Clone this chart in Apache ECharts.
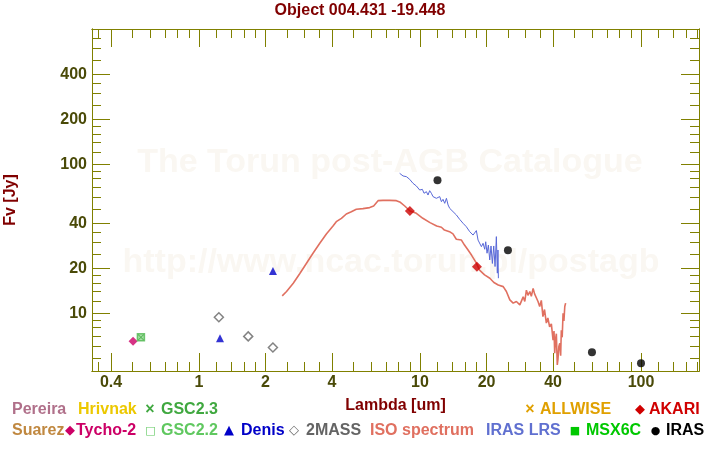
<!DOCTYPE html>
<html><head><meta charset="utf-8">
<script src="https://cdn.jsdelivr.net/npm/echarts@6/dist/echarts.min.js"></script>
<style>html,body{margin:0;padding:0;background:#fff}#c{width:720px;height:450px}</style>
</head><body><div id="c"></div>
<script>
// ---- tick values ----
const xMajorTicks = [0.4, 1, 2, 4, 10, 20, 40, 100];
const xMinorTicks = [0.35, 0.5, 0.6, 0.7, 0.8, 0.9, 1.2, 1.4, 1.6, 1.8, 2.5, 3, 3.5, 5, 6, 7, 8, 9,
  12, 14, 16, 18, 25, 30, 35, 50, 60, 70, 80, 90, 120, 140, 160, 180];
const yMajorTicks = [10, 20, 40, 100, 200, 400];
const yMinorTicks = [5, 6, 7, 8, 9, 12, 14, 16, 18, 25, 30, 35, 50, 60, 70, 80, 90,
  120, 140, 160, 180, 250, 300, 350, 500, 600, 700, 800];

// ---- ISO spectrum ----
const isoWave = [2.38, 2.49, 2.67, 2.86, 3.06, 3.28, 3.52, 3.77, 4.04, 4.18, 4.41, 4.64, 4.89, 5.15, 5.52, 5.92,
  6.17, 6.46, 6.80, 7.29, 7.82, 8.15, 8.53, 9.01, 9.63, 10.3, 11.1, 11.9, 12.5, 12.9, 13.6, 14.1, 14.6, 15.4,
  15.9, 16.5, 17.1, 18.0, 18.6, 19.6, 20.7, 21.6, 22.6, 23.8, 24.6, 25.5, 26.4, 27.3, 28.3, 29.3, 29.8, 30.3,
  30.8, 31.4, 31.9, 32.5, 33.0, 33.6, 34.2, 34.8, 35.4, 36.0, 36.6, 37.3, 37.9, 38.6, 39.3, 40.0, 40.4, 40.7,
  41.1, 41.4, 41.8, 42.1, 42.5, 42.9, 43.3, 43.6, 44.0, 44.4, 44.8, 45.2, 45.6];
const isoFlux = [13.1, 14.0, 15.9, 18.5, 21.6, 25.3, 29.5, 34.1, 38.5, 41.2, 43.4, 46.4, 48.1, 49.9, 50.4, 51.2,
  52.5, 57.0, 57.3, 57.3, 57.0, 55.6, 52.5, 48.6, 46.9, 43.4, 40.6, 38.5, 37.8, 36.2, 35.3, 34.1, 31.4, 31.0,
  28.7, 26.6, 24.6, 21.7, 19.5, 18.1, 17.2, 16.1, 15.5, 15.1, 14.0, 12.3, 11.7, 12.0, 11.4, 12.9, 12.0, 14.3,
  13.2, 14.0, 13.0, 14.7, 13.5, 13.3, 12.0, 11.1, 12.2, 9.5, 10.6, 8.6, 9.3, 8.1, 8.5, 6.6, 7.6, 5.4,
  6.8, 7.3, 4.5, 4.9, 6.0, 6.3, 5.2, 7.7, 6.9, 10.0, 8.9, 11.1, 11.7];

// ---- IRAS LRS ----
const lrsWave = [8.09, 8.38, 8.68, 8.98, 9.30, 9.63, 9.97, 10.25, 10.43, 10.69, 10.87, 11.06, 11.26, 11.45,
  11.65, 11.86, 12.06, 12.28, 12.50, 12.71, 12.94, 13.17, 13.40, 13.63, 14.11, 14.61, 15.12, 15.66, 15.94,
  16.21, 16.50, 16.79, 17.38, 17.99, 18.31, 18.63, 18.96, 19.29, 19.63, 19.83, 20.11, 20.39, 20.68, 20.96,
  21.26, 21.56, 21.86, 22.16, 22.39, 22.53, 22.63];
const lrsFlux = [87.0, 83.5, 82.6, 79.3, 74.5, 71.5, 67.2, 67.9, 63.9, 65.5, 62.2, 66.5, 63.9, 60.7,
  62.2, 59.1, 57.6, 60.7, 56.1, 58.2, 54.7, 59.1, 53.3, 50.6, 48.1, 45.7, 42.7, 40.2, 41.2,
  38.1, 37.2, 35.3, 33.5, 35.9, 31.0, 31.9, 28.0, 29.5, 26.9, 30.2, 25.3, 28.7, 22.8, 28.3,
  21.6, 28.3, 20.6, 32.7, 18.6, 26.6, 17.2];

// ---- photometry ----
const tycho2Wave = [0.503], tycho2Flux = [6.49];
const gsc22Wave = [0.546], gsc22Flux = [6.9];
const gsc23Wave = [0.546], gsc23Flux = [6.9];
const denisWave = [1.245, 2.16], denisFlux = [6.8, 19.2];
const twomassWave = [1.23, 1.67, 2.16], twomassFlux = [9.4, 7.0, 5.9];
const akariWave = [9.0, 18.1], akariFlux = [48.6, 20.5];
const irasWave = [12, 25, 60, 100], irasFlux = [78.1, 26.5, 5.47, 4.62];

// ---- axis ranges ----
const X_MIN = 0.328, X_MAX = 183;
const Y_MIN = 4.10, Y_MAX = 809;

const FONT = '"Liberation Sans", Arial, sans-serif';
const AXIS_COLOR = '#808000';
const LABEL_COLOR = '#4a4a08';

function pairs(a, b) { return a.map((v, i) => [v, b[i]]); }
function fmt(v) { return String(+(+v).toPrecision(6)); }

function axisDef(dim, pos, ticks, len, withLabel) {
  const isX = dim === 'x';
  return {
    type: 'log', logBase: 10,
    min: isX ? X_MIN : Y_MIN, max: isX ? X_MAX : Y_MAX,
    position: pos,
    axisLine: { show: true, onZero: false, lineStyle: { color: AXIS_COLOR, width: 1 } },
    axisTick: { show: true, inside: true, length: len, customValues: ticks, lineStyle: { color: AXIS_COLOR, width: 1 } },
    axisLabel: withLabel ? {
      show: true, customValues: ticks, formatter: fmt, margin: isX ? 4 : 5,
      color: LABEL_COLOR, fontSize: 16, fontWeight: 'bold', fontFamily: FONT
    } : { show: false },
    splitLine: { show: false }, minorTick: { show: false }, minorSplitLine: { show: false }
  };
}

const xAxes = [
  Object.assign(axisDef('x', 'bottom', xMajorTicks, 18, true), {
    name: 'Lambda [um]', nameLocation: 'middle', nameGap: 27,
    nameTextStyle: { color: '#800000', fontSize: 16, fontWeight: 'bold', fontFamily: FONT }
  }),
  axisDef('x', 'bottom', xMinorTicks, 9, false),
  axisDef('x', 'top', xMajorTicks, 18, false),
  axisDef('x', 'top', xMinorTicks, 9, false)
];
const yAxes = [
  Object.assign(axisDef('y', 'left', yMajorTicks, 18, true), {
    name: 'Fv [Jy]', nameLocation: 'middle', nameGap: 73, nameRotate: 90,
    nameTextStyle: { color: '#800000', fontSize: 16, fontWeight: 'bold', fontFamily: FONT }
  }),
  axisDef('y', 'left', yMinorTicks, 9, false),
  axisDef('y', 'right', yMajorTicks, 18, false),
  axisDef('y', 'right', yMinorTicks, 9, false)
];

const XSYM = 'path://M0,1L1,0L5,4L9,0L10,1L6,5L10,9L9,10L5,6L1,10L0,9L4,5Z';

// ---- legend (text) ----
const legendItems = [
  { t: 'Pereira', c: '#b0708a', x: 12, r: 0 },
  { t: 'Hrivnak', c: '#ecc800', x: 78, r: 0 },
  { t: '×', c: '#40a840', x: 150, r: 0, s: 'x' },
  { t: 'GSC2.3', c: '#40a840', x: 161, r: 0 },
  { t: '×', c: '#e0a000', x: 530, r: 0, s: 'x' },
  { t: 'ALLWISE', c: '#e0a000', x: 540, r: 0 },
  { t: '◆', c: '#d00000', x: 640, r: 0, s: 'b' },
  { t: 'AKARI', c: '#d00000', x: 649, r: 0 },
  { t: 'Suarez', c: '#c08840', x: 12, r: 1 },
  { t: '◆', c: '#cc0066', x: 70, r: 1, s: 'b' },
  { t: 'Tycho-2', c: '#cc0066', x: 76, r: 1 },
  { t: '□', c: '#60c860', x: 150.5, r: 1, s: 's' },
  { t: 'GSC2.2', c: '#60c860', x: 161, r: 1 },
  { t: '▲', c: '#0000c8', x: 229, r: 1, s: 'b' },
  { t: 'Denis', c: '#0000c8', x: 241, r: 1 },
  { t: '◇', c: '#646464', x: 294, r: 1, s: 'b' },
  { t: '2MASS', c: '#646464', x: 306, r: 1 },
  { t: 'ISO spectrum', c: '#e07060', x: 370, r: 1 },
  { t: 'IRAS LRS', c: '#6070d0', x: 486, r: 1 },
  { t: '■', c: '#00c800', x: 575, r: 1, s: 's' },
  { t: 'MSX6C', c: '#00c800', x: 586, r: 1 },
  { t: '●', c: '#000000', x: 655.5, r: 1, s: 's' },
  { t: 'IRAS', c: '#000000', x: 666, r: 1 }
];
function symFont(s) {
  if (s === 'x') return 'bold 16px ' + FONT;
  if (s === 'b') return '13px "DejaVu Sans"';
  return '11px "DejaVu Sans"';
}
const WM = '#faf7f2';
const graphics = [
  { type: 'text', x: 390, y: 163, z: -1, silent: true,
    style: { text: 'The Torun post-AGB Catalogue', fill: WM, font: 'bold 34px ' + FONT,
      align: 'center', verticalAlign: 'middle', textAlign: 'center', textVerticalAlign: 'middle' } },
  { type: 'text', x: 391, y: 263, z: -1, silent: true,
    style: { text: 'http://www.ncac.torun.pl/postagb', fill: WM, font: 'bold 34px ' + FONT,
      align: 'center', verticalAlign: 'middle', textAlign: 'center', textVerticalAlign: 'middle' } }
].concat(legendItems.map(it => ({
  type: 'text', x: it.x, y: it.r ? 431 : 410,
  style: {
    text: it.t, fill: it.c,
    font: it.s ? symFont(it.s) : 'bold 16px ' + FONT,
    align: it.s ? 'center' : 'left', textAlign: it.s ? 'center' : 'left',
    verticalAlign: 'middle', textVerticalAlign: 'middle'
  }
})));

const chart = echarts.init(document.getElementById('c'), null, { renderer: 'canvas' });
chart.setOption({
  animation: false,
  backgroundColor: '#ffffff',
  title: {
    text: 'Object 004.431 -19.448', left: 'center', top: 3, padding: 0,
    textStyle: { color: '#800000', fontSize: 16, fontWeight: 'bold', fontFamily: FONT }
  },
  grid: { left: 92, right: 21, top: 29, bottom: 79, containLabel: false, outerBoundsMode: 'none' },
  xAxis: xAxes,
  yAxis: yAxes,
  graphic: graphics,
  series: [
    { name: 'ISO spectrum', type: 'line', data: pairs(isoWave, isoFlux), showSymbol: false, symbol: 'none',
      lineStyle: { color: '#e07060', width: 1.6 }, itemStyle: { color: '#e07060' }, z: 2 },
    { name: 'IRAS LRS', type: 'line', data: pairs(lrsWave, lrsFlux), showSymbol: false, symbol: 'none',
      lineStyle: { color: '#5868d8', width: 1 }, itemStyle: { color: '#5868d8' }, z: 3 },
    { name: 'Tycho-2', type: 'scatter', data: pairs(tycho2Wave, tycho2Flux), symbol: 'diamond', symbolSize: 9,
      itemStyle: { color: '#cc0066' }, z: 5 },
    { name: 'GSC2.2', type: 'scatter', data: pairs(gsc22Wave, gsc22Flux), symbol: 'rect', symbolSize: 7,
      itemStyle: { color: '#90d890', borderColor: '#50b850', borderWidth: 1.5 }, z: 5 },
    { name: 'GSC2.3', type: 'scatter', data: pairs(gsc23Wave, gsc23Flux), symbol: XSYM, symbolSize: 6,
      itemStyle: { color: '#40a840' }, z: 6 },
    { name: 'Denis', type: 'scatter', data: pairs(denisWave, denisFlux), symbol: 'triangle', symbolSize: 8,
      itemStyle: { color: '#0000c8' }, z: 5 },
    { name: '2MASS', type: 'scatter', data: pairs(twomassWave, twomassFlux), symbol: 'diamond', symbolSize: 9,
      itemStyle: { color: '#ffffff', borderColor: '#646464', borderWidth: 1.5 }, z: 5 },
    { name: 'AKARI', type: 'scatter', data: pairs(akariWave, akariFlux), symbol: 'diamond', symbolSize: 10,
      itemStyle: { color: '#cc0000' }, z: 5 },
    { name: 'IRAS', type: 'scatter', data: pairs(irasWave, irasFlux), symbol: 'circle', symbolSize: 8,
      itemStyle: { color: '#000000' }, z: 5 }
  ]
});
</script>
</body></html>
